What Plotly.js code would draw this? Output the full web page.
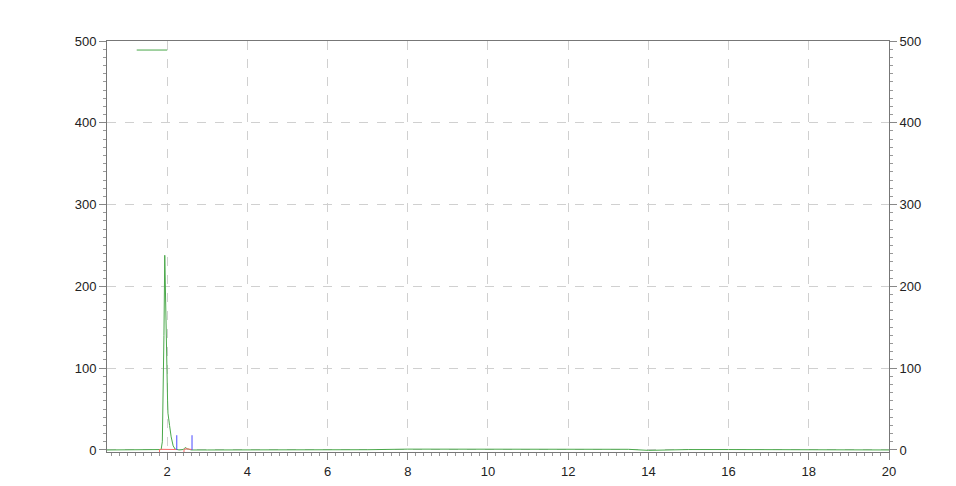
<!DOCTYPE html>
<html>
<head>
<meta charset="utf-8">
<script src="https://cdn.plot.ly/plotly-3.0.1.min.js"></script>
<style>
  html, body { margin: 0; padding: 0; background: #fff; }
  #myDiv { width: 956px; height: 486px; }
</style>
</head>
<body>
<div id="myDiv"></div>
<script>
// signal trace (green)
var signalX = [0.5, 1.0, 1.5, 1.8, 1.85, 1.88, 1.9, 1.92, 1.94, 1.96, 1.975, 2.0, 2.01, 2.02, 2.03, 2.06, 2.1, 2.12, 2.15, 2.2, 2.3, 2.4, 2.45, 2.5, 2.6, 3, 4, 5, 6, 7, 8, 9, 10, 11, 12, 13, 13.5, 14, 14.5, 15, 16, 17, 18, 19, 20];
var signalY = [0, 0, 0, 0, 0.5, 10, 60, 140, 238, 175, 140, 80, 61, 45, 38, 30, 16, 12, 5, 1, 0, 0.5, 3, 1.5, 0, 0, 0, 0.3, -0.5, 0.3, 1, 1, 1, 1, 1, 1, 0.8, -0.5, 0.2, 0.5, 0.5, 0.3, 0.2, 0, 0];

// baseline pieces (red)
var baseX = [1.81, 1.81, 1.86, 2.24, null, 2.42, 2.42, 2.47, 2.52, 2.62];
var baseY = [-3, 0.5, 0.8, 0.5, null, -3, 0.5, 1.5, 1.2, 0.5];

// peak marks (blue)
var markX = [2.24, 2.24, null, 2.62, 2.62];
var markY = [0, 18, null, 0, 18];

var xRange = [0.5, 20];
var yRange = [-2.5, 500];

var fontSpec = {family: 'Liberation Sans, Arial, sans-serif', size: 13, color: '#222'};

var gData = [
  {x: signalX, y: signalY, type: 'scatter', mode: 'lines', line: {color: '#4aa84a', width: 1}, hoverinfo: 'skip'},
  {x: baseX, y: baseY, type: 'scatter', mode: 'lines', line: {color: '#ff6b6b', width: 1}, hoverinfo: 'skip'},
  {x: markX, y: markY, type: 'scatter', mode: 'lines', line: {color: '#4a4aff', width: 1}, hoverinfo: 'skip', yaxis: 'y2'}
];

var layout = {
  width: 956,
  height: 486,
  margin: {l: 107, r: 67, t: 41, b: 34},
  paper_bgcolor: '#fff',
  plot_bgcolor: '#fff',
  showlegend: false,
  font: fontSpec,
  xaxis: {
    range: xRange,
    dtick: 2,
    tick0: 0,
    ticks: 'outside',
    ticklen: 7,
    tickcolor: '#888',
    showline: true,
    linecolor: '#777',
    mirror: true,
    showgrid: true,
    gridcolor: '#d0d0d0',
    griddash: 'dash',
    zeroline: false,
    tickfont: fontSpec,
    minor: {dtick: 0.2, tick0: 0, ticks: 'outside', ticklen: 3, tickcolor: '#999', showgrid: false}
  },
  xaxis2: {
    range: xRange,
    overlaying: 'x',
    side: 'bottom',
    anchor: 'y',
    dtick: 1,
    tick0: 0,
    ticks: 'outside',
    ticklen: 5,
    tickcolor: '#999',
    showticklabels: false,
    showgrid: false,
    zeroline: false
  },
  yaxis: {
    range: yRange,
    dtick: 100,
    tick0: 0,
    ticks: 'outside',
    ticklen: 7,
    tickcolor: '#888',
    showline: true,
    linecolor: '#777',
    showgrid: true,
    gridcolor: '#d0d0d0',
    griddash: 'dash',
    zeroline: false,
    tickfont: fontSpec,
    minor: {dtick: 10, tick0: 0, ticks: 'outside', ticklen: 3, tickcolor: '#999', showgrid: false}
  },
  yaxis2: {
    range: yRange,
    overlaying: 'y',
    side: 'right',
    anchor: 'x',
    dtick: 100,
    tick0: 0,
    ticks: 'outside',
    ticklen: 7,
    tickcolor: '#888',
    showline: true,
    linecolor: '#777',
    showgrid: false,
    zeroline: false,
    tickfont: fontSpec,
    minor: {dtick: 10, tick0: 0, ticks: 'outside', ticklen: 3, tickcolor: '#999', showgrid: false}
  },
  shapes: [
    // legend sample line
    {type: 'line', xref: 'paper', yref: 'paper', x0: 0.038, x1: 0.077, y0: 0.978, y1: 0.978,
     line: {color: '#4aa84a', width: 1}}
  ]
};

Plotly.newPlot('myDiv', gData, layout, {staticPlot: true, displayModeBar: false});
</script>
</body>
</html>
